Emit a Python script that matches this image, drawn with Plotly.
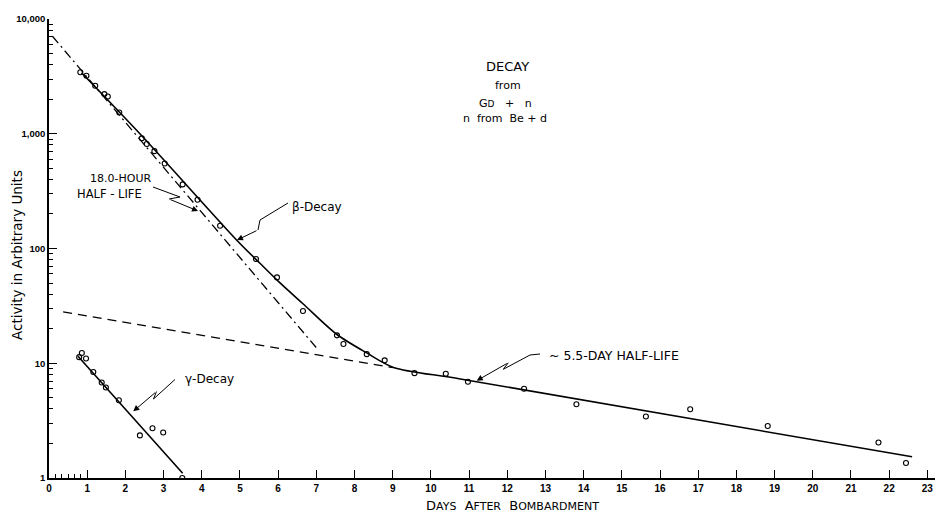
import plotly.graph_objects as go

# ---------------- data ----------------
beta_days = [0.82, 0.98, 1.21, 1.45, 1.54, 1.84, 2.43, 2.56, 2.76, 3.03, 3.50, 3.89,
             4.48, 5.42, 5.97, 6.65, 7.54, 7.71, 8.32, 8.79, 9.57, 10.39, 10.97,
             12.44, 13.81, 15.63, 16.79, 18.82, 21.72, 22.44]
beta_activity = [3440, 3200, 2620, 2215, 2110, 1530, 912, 813, 705, 550, 362, 266,
                 158, 81, 56, 28.5, 17.5, 14.7, 12.0, 10.6, 8.2, 8.1, 6.9,
                 6.0, 4.39, 3.43, 3.97, 2.84, 2.04, 1.35]

gamma_days = [0.79, 0.86, 0.97, 1.16, 1.38, 1.49, 1.83, 2.38, 2.71, 2.99, 3.49]
gamma_activity = [11.3, 12.3, 11.0, 8.4, 6.8, 6.15, 4.76, 2.35, 2.71, 2.49, 1.0]

beta_curve_days = [0.85, 2.38, 4.93, 5.53, 6.0, 6.65, 7.54, 8.32, 9.02, 10.77, 22.6]
beta_curve_activity = [3400, 1000, 117, 74, 52, 33, 17.8, 12.3, 9.2, 7.3, 1.53]

hour18_days = [0.09, 7.03]
hour18_activity = [7080, 13.3]

day55_days = [0.37, 9.0]
day55_activity = [28.0, 9.15]

gamma_line_days = [0.76, 3.50]
gamma_line_activity = [11.5, 1.1]

x_tick_vals = list(range(0, 24))
x_tick_text = [str(v) for v in x_tick_vals]
x_minor_vals = [1 / 6, 2 / 6, 3 / 6, 4 / 6, 5 / 6]
y_tick_vals = [1, 10, 100, 1000, 10000]
y_tick_text = ["1", "10", "100", "1,000", "10,000"]
y_minor_vals = [m * d for d in (1, 10, 100, 1000) for m in range(2, 10)]

# ---------------- layout geometry (pixels) ----------------
W, H = 940, 514
ML, MR, MT, MB = 49, 5, 19, 36
PW, PH = W - ML - MR, H - MT - MB
FONT = "Liberation Sans, Arial, sans-serif"
LFONT = "DejaVu Sans, Verdana, sans-serif"


def fx(px):
    return (px - ML) / PW


def fy(py):
    return (H - MB - py) / PH


fig = go.Figure()

fig.add_trace(go.Scatter(x=day55_days, y=day55_activity, mode="lines",
                         line=dict(color="black", width=1.3, dash="9px,6px"),
                         hoverinfo="skip", showlegend=False))
fig.add_trace(go.Scatter(x=hour18_days, y=hour18_activity, mode="lines",
                         line=dict(color="black", width=1.3, dash="9px,4px,2px,4px"),
                         hoverinfo="skip", showlegend=False))
fig.add_trace(go.Scatter(x=beta_curve_days, y=beta_curve_activity, mode="lines",
                         line=dict(color="black", width=1.6, shape="spline", smoothing=0.8),
                         hoverinfo="skip", showlegend=False))
fig.add_trace(go.Scatter(x=gamma_line_days, y=gamma_line_activity, mode="lines",
                         line=dict(color="black", width=1.6),
                         hoverinfo="skip", showlegend=False))
fig.add_trace(go.Scatter(x=beta_days, y=beta_activity, mode="markers",
                         marker=dict(symbol="circle-open", size=5, color="black",
                                     line=dict(width=1.1, color="black")),
                         name="β", showlegend=False))
fig.add_trace(go.Scatter(x=gamma_days, y=gamma_activity, mode="markers",
                         marker=dict(symbol="circle-open", size=5, color="black",
                                     line=dict(width=1.1, color="black")),
                         name="γ", showlegend=False))

annotations = []


def text(px, py, s, size=10, anchor="center", weight="normal", angle=0):
    annotations.append(dict(x=fx(px), y=fy(py), xref="paper", yref="paper", text=s,
                            showarrow=False, xanchor=anchor, yanchor="middle",
                            textangle=angle,
                            font=dict(family=LFONT, size=size, color="black", weight=weight)))


text(507, 67, "DECAY", 13)
text(508, 85, "from", 11)
text(505, 103, "G<span style='font-size:9px'>D</span>   +   n", 11)
text(505, 118, "n  from  Be + d", 11)
text(120, 178, "18.0-HOUR", 11)
text(109, 194, "HALF - LIFE", 11.5)
text(317, 207, "β-Decay", 12)
text(209, 379, "γ-Decay", 12)
text(547, 355, "~ 5.5-DAY HALF-LIFE", 12.5, anchor="left")
text(512, 505, "D<span style='font-size:11px'>AYS</span>  A<span style='font-size:11px'>FTER</span>  "
     "B<span style='font-size:11px'>OMBARDMENT</span>", 13)
text(17, 255, "Activity in Arbitrary Units", 13.5, angle=-90)

# zig-zag pointer arrows: polyline + arrow-headed last segment
arrows = [
    [(153, 187), (180, 197), (169, 199), (198, 211)],
    [(288, 203), (260, 220), (258, 230), (237, 240)],
    [(175, 379.5), (153.5, 399), (156.5, 391.5), (133.3, 411.3)],
    [(540, 354), (530, 355), (503.3, 369.3), (508.3, 362.7), (476.7, 380.7)],
]
shapes = []
for pts in arrows:
    body = pts[:-1]
    path = "M " + " L ".join(f"{fx(x):.5f},{fy(y):.5f}" for x, y in body)
    shapes.append(dict(type="path", path=path, xref="paper", yref="paper",
                       line=dict(color="black", width=1)))
    (x0, y0), (x1, y1) = pts[-2], pts[-1]
    annotations.append(dict(x=fx(x1), y=fy(y1), xref="paper", yref="paper", text="",
                            showarrow=True, ax=x0 - x1, ay=y0 - y1, arrowhead=2,
                            arrowsize=1.2, arrowwidth=1, arrowcolor="black", standoff=0))

fig.update_layout(
    width=W, height=H, autosize=False,
    margin=dict(l=ML, r=MR, t=MT, b=MB, pad=0),
    paper_bgcolor="white", plot_bgcolor="white",
    font=dict(family=FONT, color="black"),
    showlegend=False,
    annotations=annotations, shapes=shapes,
    xaxis=dict(range=[0, 23.2], tickmode="array", tickvals=x_tick_vals, ticktext=x_tick_text,
               ticks="inside", ticklen=8, tickwidth=1, tickcolor="black",
               showline=True, linecolor="black", linewidth=1.5,
               showgrid=False, zeroline=False,
               tickfont=dict(family=FONT, size=10, color="black", weight="bold"),
               minor=dict(tickmode="array", tickvals=x_minor_vals, ticks="inside",
                          ticklen=4, tickcolor="black", showgrid=False)),
    yaxis=dict(type="log", range=[0, 4], tickmode="array", tickvals=y_tick_vals,
               ticktext=y_tick_text, ticks="inside", ticklen=8, tickwidth=1, tickcolor="black",
               showline=True, linecolor="black", linewidth=1.5,
               showgrid=False, zeroline=False,
               tickfont=dict(family=FONT, size=9.5, color="black", weight="bold"),
               minor=dict(tickmode="array", tickvals=y_minor_vals, ticks="inside",
                          ticklen=4, tickcolor="black", showgrid=False)),
)

fig.write_html("out.html", config={"displayModeBar": False},
               post_script="document.body.style.margin='0';")
